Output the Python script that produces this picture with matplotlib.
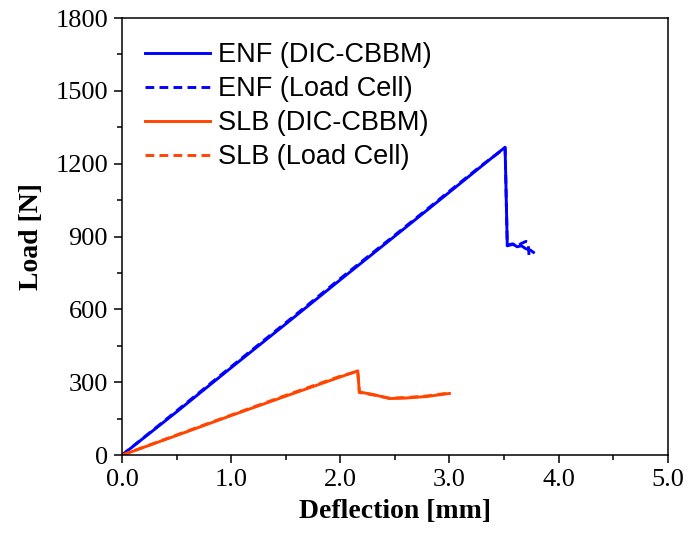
import matplotlib
matplotlib.use("Agg")
import matplotlib.pyplot as plt
from matplotlib.ticker import MultipleLocator, FormatStrFormatter

# ENF test: load-deflection from DIC-CBBM and from the load cell
enf_dic_x = [0.0, 0.5, 1.0, 1.5, 2.0, 2.5, 3.0, 3.3, 3.51, 3.53, 3.58, 3.62, 3.66, 3.70, 3.74, 3.77]
enf_dic_y = [0, 178, 360, 540, 722, 902, 1083, 1192, 1268, 865, 870, 858, 862, 850, 845, 835]
enf_lc_x = [0.0, 0.5, 1.0, 1.5, 2.0, 2.5, 3.0, 3.3, 3.51, 3.53, 3.58, 3.62, 3.66, 3.70, 3.72, 3.73, 3.76]
enf_lc_y = [0, 182, 364, 545, 727, 906, 1087, 1195, 1265, 862, 868, 860, 872, 880, 878, 820, 830]

# SLB test: load-deflection from DIC-CBBM and from the load cell
slb_dic_x = [0.0, 0.5, 1.0, 1.5, 2.0, 2.16, 2.175, 2.3, 2.45, 2.6, 2.8, 3.0]
slb_dic_y = [0, 81, 163, 243, 322, 347, 260, 250, 233, 235, 242, 254]
slb_lc_x = [0.0, 0.5, 1.0, 1.5, 2.0, 2.16, 2.175, 2.3, 2.45, 2.6, 2.8, 3.0]
slb_lc_y = [0, 83, 165, 246, 325, 345, 258, 248, 235, 237, 244, 256]

x_ticks = [0.0, 1.0, 2.0, 3.0, 4.0, 5.0]
y_ticks = [0, 300, 600, 900, 1200, 1500, 1800]

blue = "#0000FF"
orange = "#FF4500"
serif = ["Liberation Serif", "DejaVu Serif"]
sans = ["Liberation Sans", "DejaVu Sans"]

fig = plt.figure(figsize=(6.97, 5.38), dpi=100)
ax = fig.add_axes([0.175, 0.154, 0.783, 0.8125])

lw = 2.1
dash = (0, (3.0, 1.8))
ax.plot(enf_dic_x, enf_dic_y, color=blue, lw=lw, label="ENF (DIC-CBBM)")
ax.plot(enf_lc_x, enf_lc_y, color=blue, lw=lw, ls=dash, label="ENF (Load Cell)")
ax.plot(slb_dic_x, slb_dic_y, color=orange, lw=lw, label="SLB (DIC-CBBM)")
ax.plot(slb_lc_x, slb_lc_y, color=orange, lw=lw, ls=dash, label="SLB (Load Cell)")

ax.set_xlim(0, 5)
ax.set_ylim(0, 1800)
ax.set_xticks(x_ticks)
ax.set_yticks(y_ticks)
ax.xaxis.set_major_formatter(FormatStrFormatter("%.1f"))
ax.xaxis.set_minor_locator(MultipleLocator(0.5))
ax.yaxis.set_minor_locator(MultipleLocator(150))
ax.tick_params(which="major", direction="out", length=6, width=1.1, labelsize=19, pad=4)
ax.tick_params(which="minor", direction="out", length=3.5, width=1.1)
for lab in ax.get_xticklabels() + ax.get_yticklabels():
    lab.set_fontfamily(serif)
for sp in ax.spines.values():
    sp.set_linewidth(1.1)

ax.set_xlabel("Deflection [mm]", family=serif, fontweight="bold", fontsize=20, labelpad=6)
ax.set_ylabel("Load [N]", family=serif, fontweight="bold", fontsize=20, labelpad=8)

ax.legend(loc="upper left", bbox_to_anchor=(0.043, 0.945), frameon=False,
          prop={"family": sans, "size": 19.5}, handlelength=2.4, handletextpad=0.28,
          labelspacing=0.30, borderpad=0, borderaxespad=0)

fig.savefig("out.png", dpi=100)
